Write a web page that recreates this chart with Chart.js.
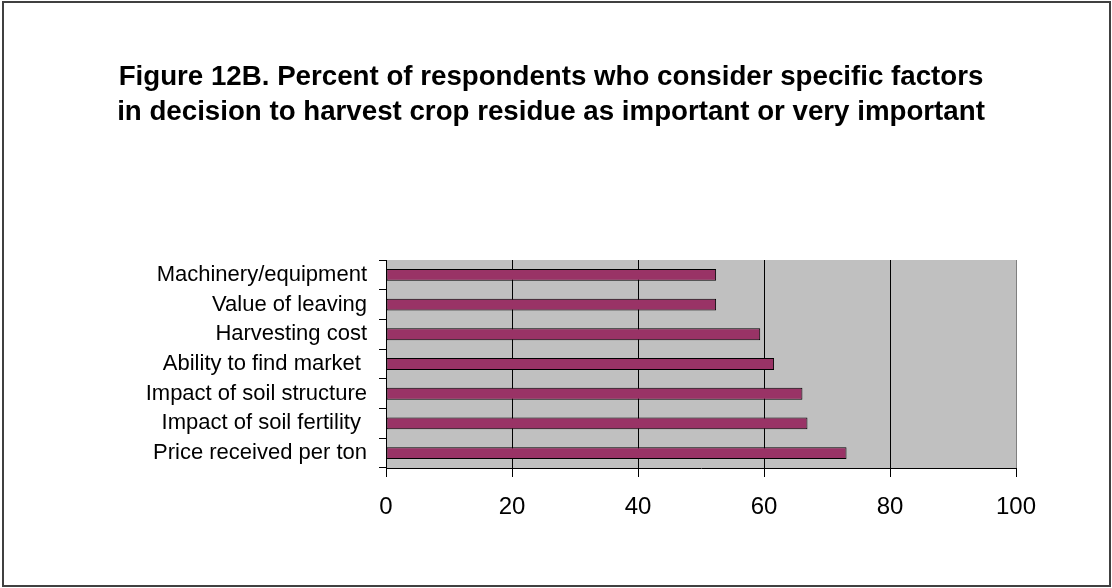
<!DOCTYPE html>
<html>
<head>
<meta charset="utf-8">
<title>Figure 12B</title>
<script src="https://cdn.jsdelivr.net/npm/chart.js@4.4.1/dist/chart.umd.min.js"></script>
<style>
  html, body { margin: 0; padding: 0; background: #fff; }
  #wrap  { position: relative; width: 1112px; height: 588px; }
  #frame { position: absolute; left: 2px; top: 1px; width: 1105px; height: 582px;
           border: 2px solid #404040; pointer-events: none; }
</style>
</head>
<body>
<div id="wrap">
  <canvas id="factorChart" width="1112" height="588"></canvas>
  <div id="frame"></div>
</div>
<script>
/* Chart data, top bar first */
const titleLines = [
  'Figure 12B. Percent of respondents who consider specific factors',
  'in decision to harvest crop residue as important or very important',
];
const categories = [
  'Machinery/equipment',
  'Value of leaving',
  'Harvesting cost',
  'Ability to find market ',
  'Impact of soil structure',
  'Impact of soil fertility ',
  'Price received per ton',
];
const percentImportant = [52.4, 52.4, 59.4, 61.6, 66.1, 66.9, 73.1];
const axisMin  = 0;
const axisMax  = 100;
const axisStep = 20;

const FONT = 'Arial, "Liberation Sans", sans-serif';

/* Grey plot area like the old spreadsheet chart */
const plotBackground = {
  id: 'plotBackground',
  beforeDraw(chart) {
    const { ctx, chartArea: a } = chart;
    ctx.save();
    ctx.fillStyle = '#c0c0c0';
    ctx.fillRect(a.left, a.top, a.right - a.left, a.bottom - a.top);
    ctx.restore();
  },
};

new Chart(document.getElementById('factorChart'), {
  type: 'bar',
  data: {
    labels: categories,
    datasets: [{
      label:           'Percent',
      data:            percentImportant,
      backgroundColor: '#993366',
      borderColor:     '#000',
      borderWidth:     1,
      borderSkipped:   false,
      barPercentage:   0.4,
      categoryPercentage: 1.0,
    }],
  },
  options: {
    indexAxis:  'y',
    responsive: false,
    animation:  false,
    layout: { padding: { left: 86, right: 96, top: 0, bottom: 0 } },
    plugins: {
      legend:  { display: false },
      tooltip: { enabled: false },
      title: {
        display: true,
        text:    titleLines,
        color:   '#000',
        font:    { family: FONT, size: 27.7, weight: 'bold', lineHeight: '35px' },
        padding: { top: 60, bottom: 130 },
      },
    },
    scales: {
      x: {
        min: axisMin,
        max: axisMax,
        afterFit: s => { s.height = 120; },
        ticks: {
          stepSize: axisStep,
          color:    '#000',
          padding:  16,
          font:     { family: FONT, size: 24 },
        },
        grid: {
          color:      c => (c.tick && c.tick.value === axisMax ? '#808080' : '#000'),
          tickColor:  '#000',
          tickLength: 9,
        },
        border: { color: '#000', width: 1 },
      },
      y: {
        offset:   true,
        afterFit: s => { s.width = 300; },
        ticks: {
          color:   '#000',
          padding: 12,
          font:    { family: FONT, size: 22 },
        },
        grid: {
          offset:          true,
          drawOnChartArea: false,
          color:           '#000',
          tickLength:      7,
        },
        border: { color: '#000', width: 1 },
      },
    },
  },
  plugins: [plotBackground],
});
</script>
</body>
</html>
